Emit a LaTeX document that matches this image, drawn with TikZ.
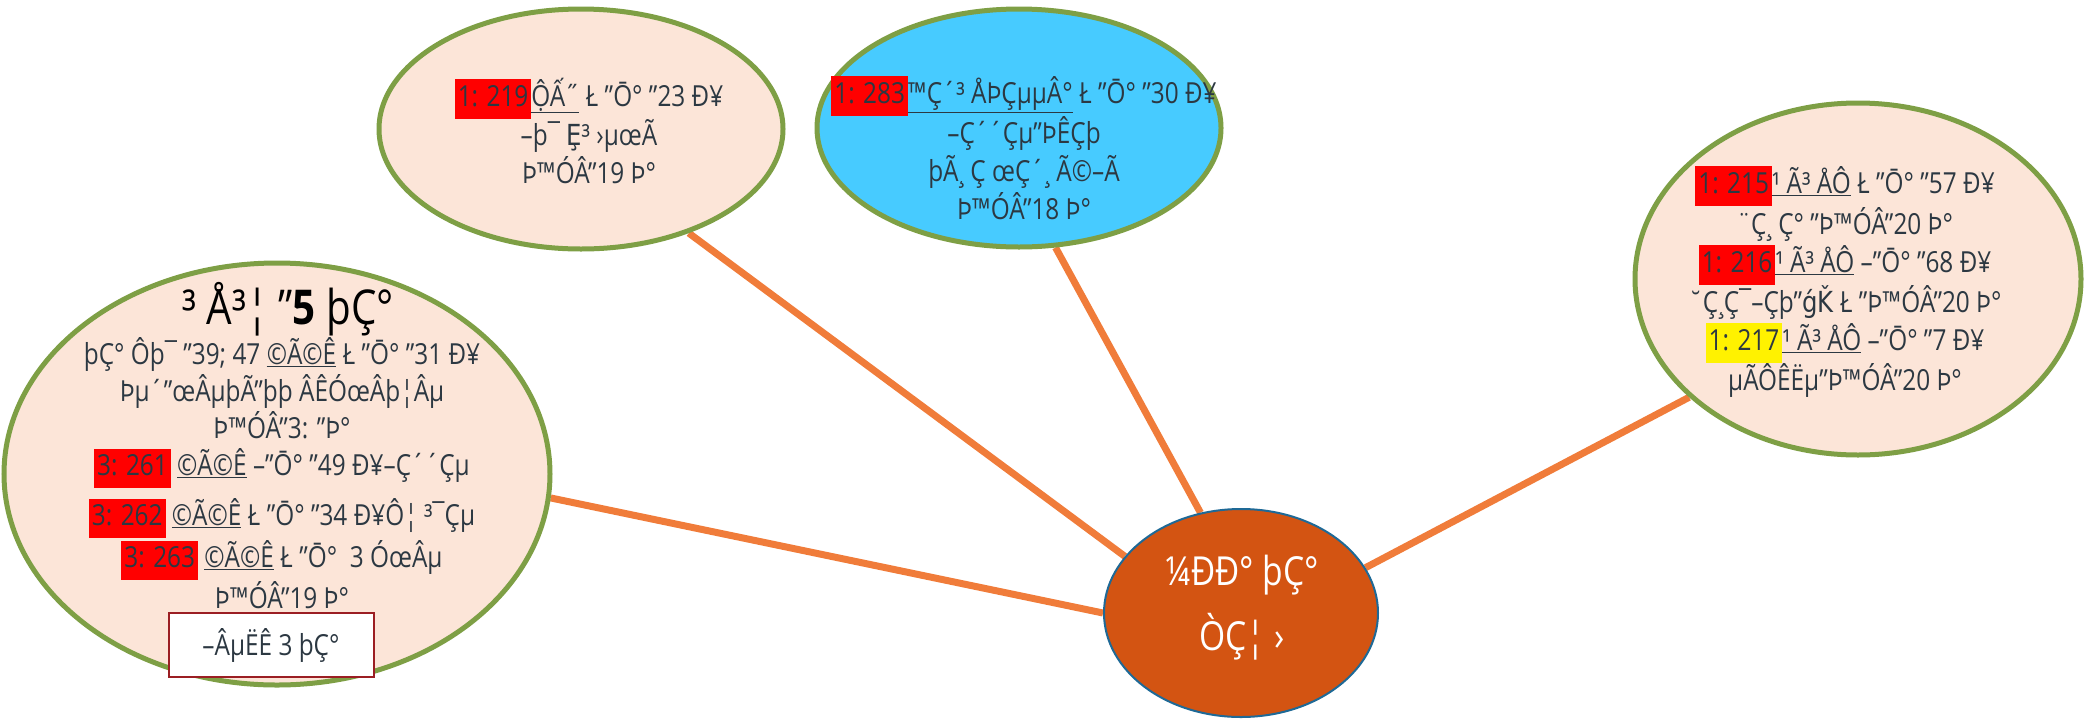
\documentclass[tikz,border=0pt]{standalone}
\usepackage{fontspec}
\setmainfont{Open Sans}[FakeStretch=0.84]
\newfontfamily\dejavu{DejaVu Sans}[FakeStretch=0.84]
\usetikzlibrary{shapes.geometric}
\usetikzlibrary{backgrounds}

\definecolor{peach}{RGB}{252,229,216}
\definecolor{leaf}{RGB}{126,159,69}
\definecolor{sky}{RGB}{71,203,255}
\definecolor{rust}{RGB}{211,84,18}
\definecolor{wire}{RGB}{240,124,58}
\definecolor{slate}{RGB}{44,56,66}
\definecolor{navy}{RGB}{30,105,150}
\definecolor{boxred}{RGB}{155,30,35}

\newcommand{\redtag}[1]{{\setlength{\fboxsep}{1pt}\colorbox{red}{\strut\hspace{2pt}#1\hspace{2pt}}}}
\newcommand{\yeltag}[1]{{\setlength{\fboxsep}{1pt}\colorbox{yellow}{\strut\hspace{2pt}#1\hspace{2pt}}}}

\tikzset{
	bubble/.style={ellipse, draw=leaf, line width=5pt, fill=peach, inner sep=0pt},
	link/.style={draw=wire, line width=7pt},
	txt/.style={align=center, text=slate, inner sep=0pt, font=\fontsize{29}{38}\selectfont}
}

\begin{document}
\begin{tikzpicture}[x=1pt,y=-1pt]
	\useasboundingbox (0,0) rectangle (2086,721);
	
	% bubbles
	\node[bubble, minimum width=404pt, minimum height=240pt] (offer) at (581,129) {};
	\node[bubble, fill=sky, minimum width=404pt, minimum height=238pt] (sale) at (1019,128) {};
	\node[bubble, minimum width=446pt, minimum height=352pt] (lease) at (1858,279) {};
	\node[bubble, minimum width=546pt, minimum height=422pt] (house) at (277,474) {};
	\node[ellipse, draw=navy, line width=2pt, fill=rust, minimum width=274pt, minimum height=208pt] (hub) at (1241,613) {};
	
	% links
	\begin{scope}[on background layer]
		\draw[link] (offer.-44) -- (hub.154);
		\draw[link] (sale.-73) -- (hub.112);
		\draw[link] (lease.215) -- (hub.20);
		\draw[link] (house.-5) -- (hub.180);
	\end{scope}
	
	% texts
	\node[txt] (offertext) at (589,131) {\redtag{1: 219}\underline{ỘẤ˝} Ł "Ō° "23 Ð¥\\
		–þ¯ {\dejavu Ȩ}³ ›µœÃ\\
		Þ™ÓÂ"19 Þ°};
	\node[txt] (saletext) at (1024,148) {\redtag{1: 283}\underline{™Ç´³ ÅÞÇµµÂ°} Ł "Ō° "30 Ð¥\\
		–Ç´´Çµ"ÞÊÇþ\\
		þÃ¸ Ç œÇ´¸ Ã©–Ã\\
		Þ™ÓÂ"18 Þ°};
	\node[txt] (leasetext) at (1845,282) {\redtag{1: 215}\underline{¹ Ã³ ÅÔ} Ł "Ō° "57 Ð¥\\
		¨Ç¸ Ç° "Þ™ÓÂ"20 Þ°\\
		\redtag{1: 216}\underline{¹ Ã³ ÅÔ} –"Ō° "68 Ð¥\\
		˘Ç¸Ç¯–Çþ"{\dejavu ǵǨ} Ł "Þ™ÓÂ"20 Þ°\\
		\yeltag{1: 217}\underline{¹ Ã³ ÅÔ} –"Ō° "7 Ð¥\\
		µÃÔÊËµ"Þ™ÓÂ"20 Þ°};
	\node[txt, text=black, font=\fontsize{48}{56}\selectfont] (housetitle) at (288,309) {³ Å³¦ "\textbf{5} þÇ°};
	\node[txt, font=\fontsize{29}{37}\selectfont] (housetext) at (282,473) {þÇ° Ôþ¯ "39; 47 \underline{©Ã©Ê} Ł "Ō° "31 Ð¥\\
		Þµ´"œÂµþÃ"þþ ÂÊÓœÂþ¦Âµ\\
		Þ™ÓÂ"3: "Þ°\\
		\redtag{3: 261} \underline{©Ã©Ê} –"Ō° "49 Ð¥–Ç´´Çµ\\[10pt]
		\redtag{3: 262} \underline{©Ã©Ê} Ł "Ō° "34 Ð¥Ô¦ ³¯Çµ\\[2pt]
		\redtag{3: 263} \underline{©Ã©Ê} Ł "Ō°\ \ 3 ÓœÂµ\\
		Þ™ÓÂ"19 Þ°};
	\node[draw=boxred, line width=2pt, fill=white, minimum width=205pt, minimum height=64pt, font=\fontsize{29}{37}\selectfont, text=slate] (housebox) at (271,645) {–ÂµËÊ 3 þÇ°};
	\node[txt, text=white, font=\fontsize{40}{65}\selectfont] (hubtext) at (1242,608) {¼ÐÐ° þÇ°\\ ÒÇ¦ ›};
\end{tikzpicture}
\end{document}
